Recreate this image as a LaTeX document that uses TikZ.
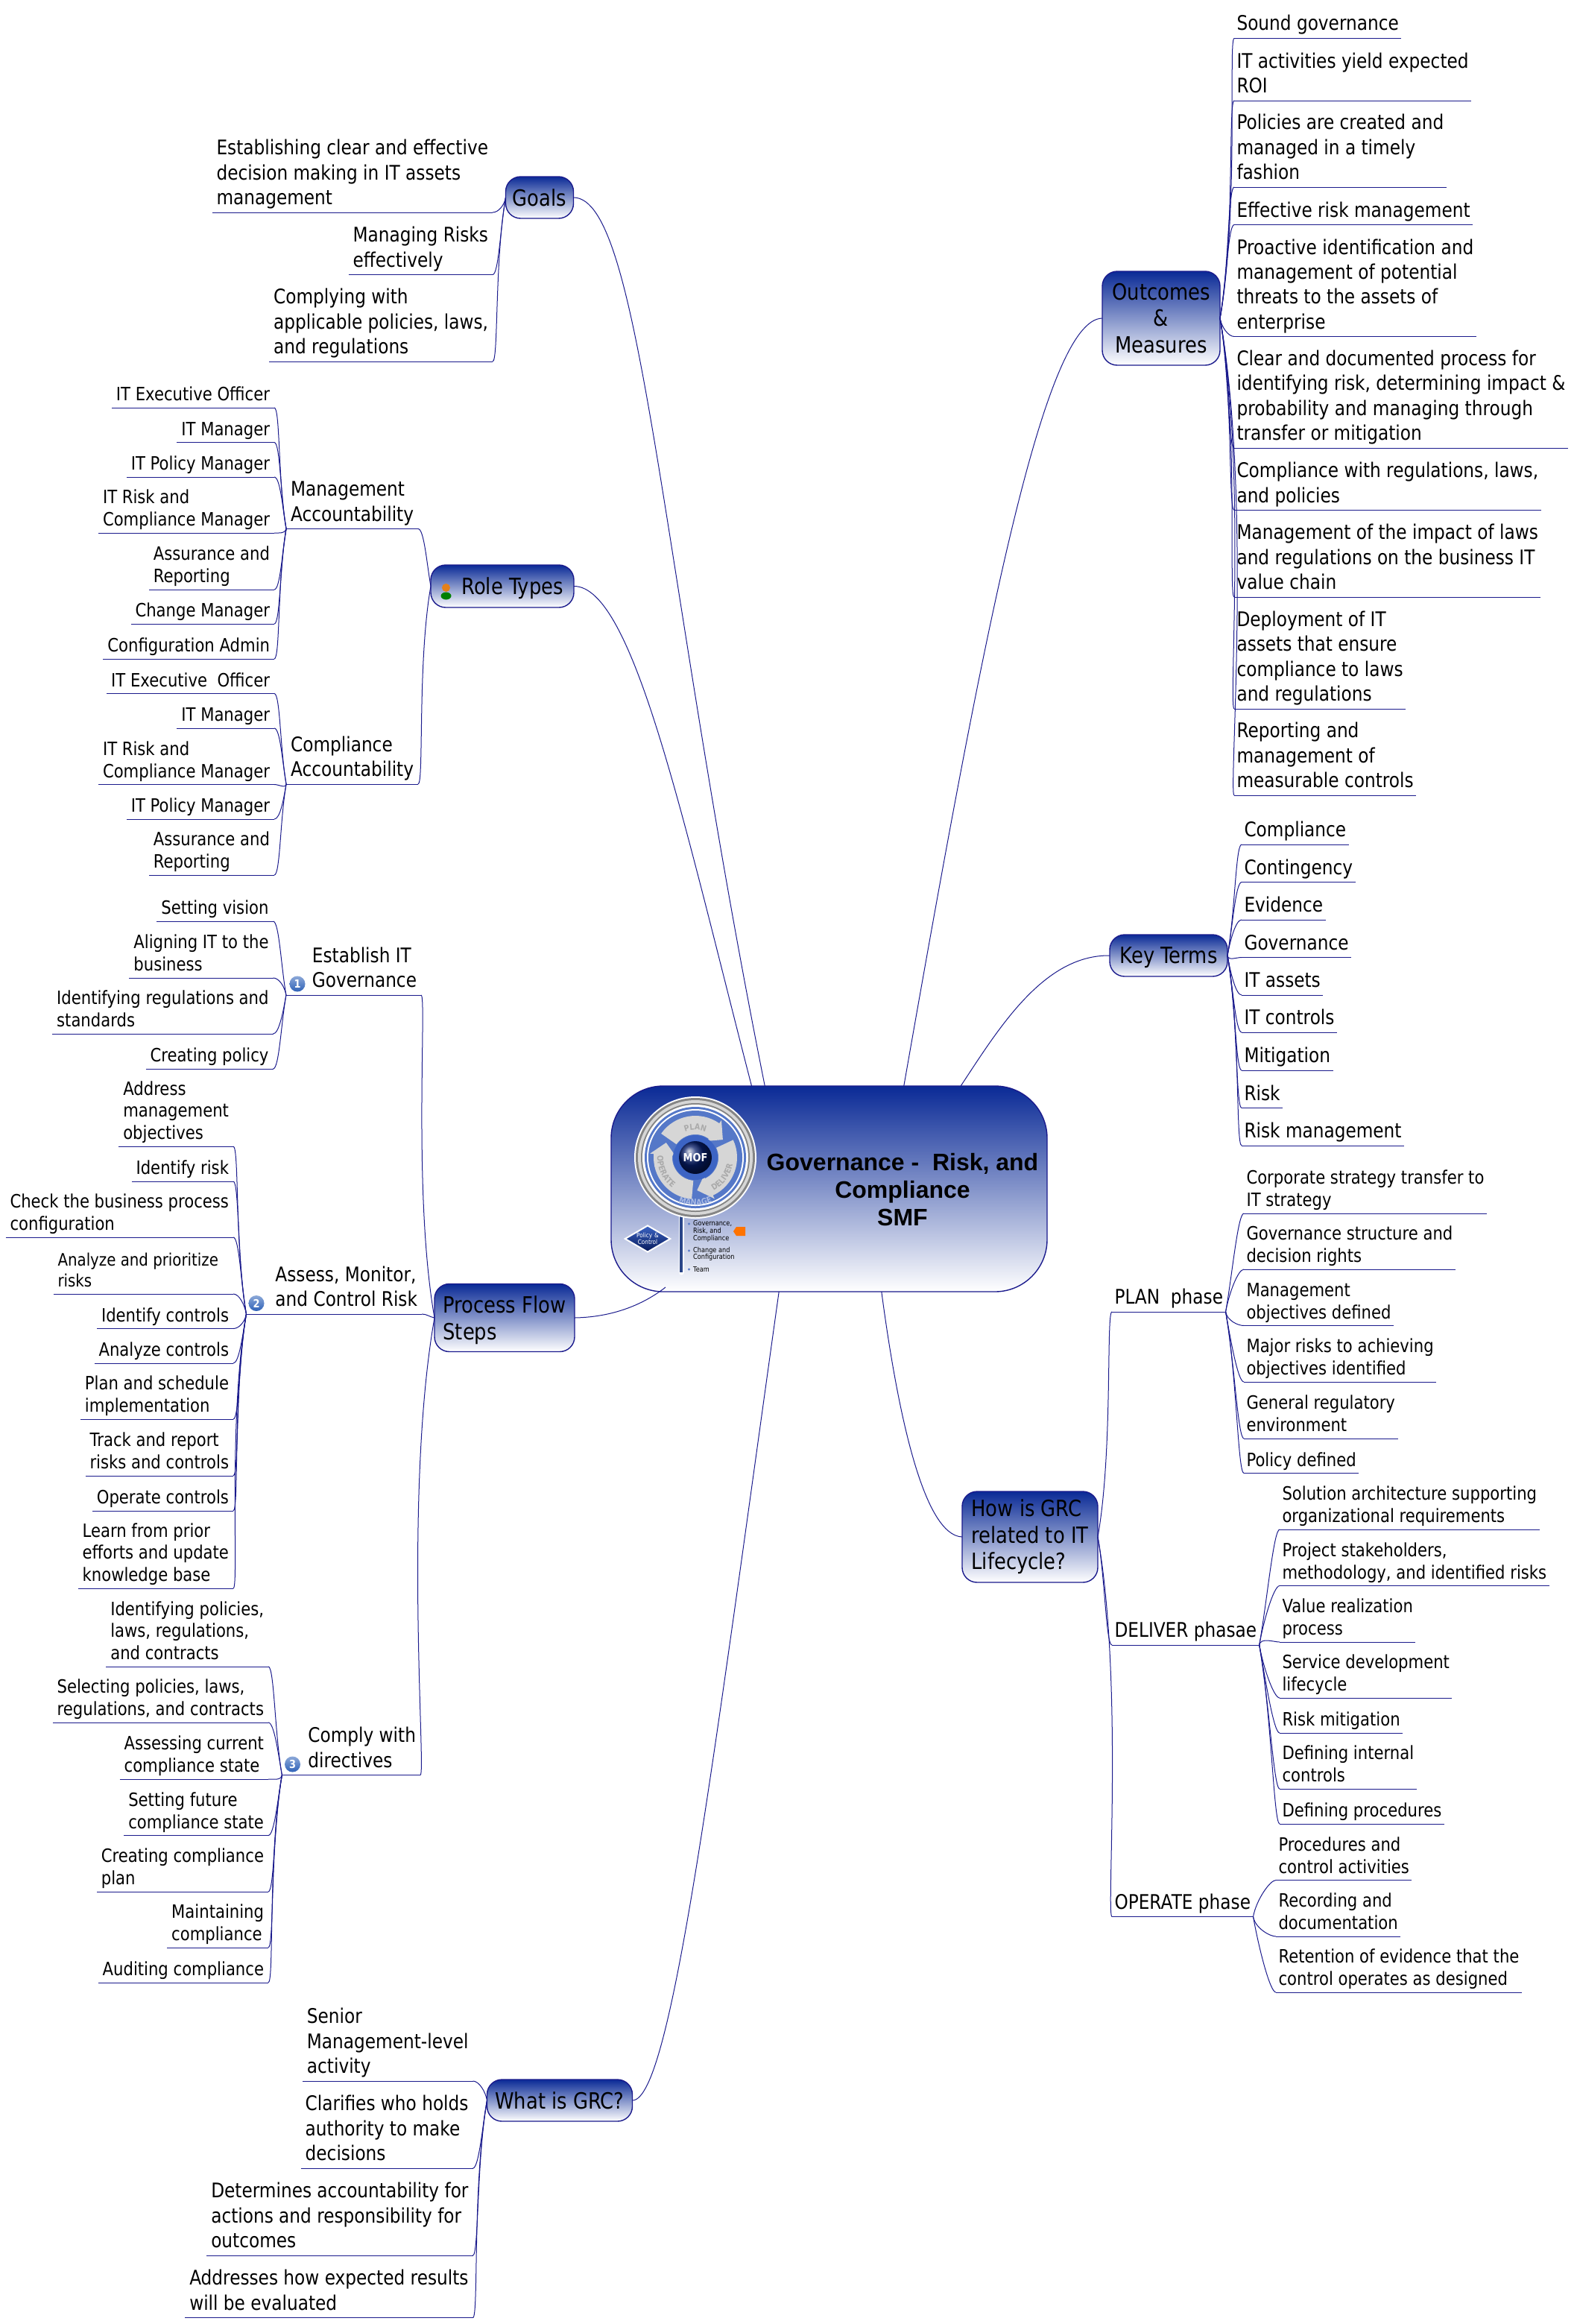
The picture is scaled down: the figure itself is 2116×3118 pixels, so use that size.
\documentclass[tikz,border=0pt]{standalone}
\usepackage{fontspec}
\setmainfont{DejaVu Sans}[FakeStretch=0.86]
\newfontfamily\titlefont{Liberation Sans}
\usetikzlibrary{arrows.meta,shapes.geometric,decorations.text}
\definecolor{MapNavy}{HTML}{1A1A8C}
\definecolor{TopicBlue}{HTML}{0A2A96}
\definecolor{LogoBlue}{HTML}{5578C8}
\definecolor{LogoDeep}{HTML}{3C64C4}
\definecolor{LogoPale}{HTML}{D6D6D6}
\definecolor{LogoGrey}{HTML}{858585}
\definecolor{BadgeBlue}{HTML}{2F62B8}
\newcommand{\logotext}{\fontsize{11}{11}\selectfont\bfseries}
\newcommand{\badgegap}{\hspace*{29pt}}

\begin{document}
\begin{tikzpicture}[x=1pt,y=-1pt]
\tikzset{
  twig/.style={MapNavy,line width=1pt},
  big/.style={font=\fontsize{27}{33.3}\selectfont},
  small/.style={font=\fontsize{24.6}{29.6}\selectfont},
  leaf/.style={big,align=left,inner ysep=0pt,outer sep=0pt,text depth=10.5pt,
               append after command={(\tikzlastnode.south west) edge[twig] (\tikzlastnode.south east)}},
  lleaf/.style={leaf,anchor=south east,inner xsep=6pt},
  rleaf/.style={leaf,anchor=south west,inner xsep=3.5pt},
  lsub/.style={lleaf,small,text depth=9.5pt},
  rsub/.style={rleaf,small,text depth=9.5pt},
  topic/.style={draw=MapNavy,line width=1.4pt,rounded corners=20pt,outer sep=0pt,inner sep=0pt,
                top color=TopicBlue,bottom color=white,align=center,
                font=\fontsize{30}{35.5}\selectfont},
  badge/.style={circle,inner sep=0pt,minimum size=21pt,top color=BadgeBlue!55!white,bottom color=BadgeBlue,text=white,
                font=\fontsize{15}{15}\selectfont\bfseries},
  lhi/.style={out=0,in=100,out max distance=8pt},
  llo/.style={out=0,in=-100,out max distance=8pt},
  rhi/.style={out=180,in=80,out max distance=8pt},
  rlo/.style={out=180,in=-80,out max distance=8pt},
  logosmall/.style={anchor=west,inner sep=0pt,align=left,font=\fontsize{9.5}{9.6}\selectfont}
}
\useasboundingbox (0,0) rectangle (2116,3118);

% ---------- centre topic -------------------------------------------------
\node[topic,rounded corners=70pt,minimum width=585pt,minimum height=276pt] (core) at (1112.5,1595) {};
\node[inner sep=0pt,align=center,font=\titlefont\fontsize{32}{37}\selectfont\bfseries] (coretitle) at (1211,1596)
  {Governance -\ \ Risk, and\\Compliance\\SMF};

% ---------- logo in the centre topic -------------------------------------
\draw[white,line width=7pt,line cap=round] (914,1610)--(914,1707);
\draw[LogoDeep!70!black,line width=4pt] (914,1610)--(914,1707);
\begin{scope}[shift={(933,1553)},y=1pt]
\fill[white] (0,0) circle (82pt);
\fill[LogoGrey] (0,0) circle (80pt);
\fill[LogoPale] (0,0) circle (77pt);
\fill[LogoGrey] (0,0) circle (73pt);
\fill[white] (0,0) circle (71pt);
\fill[LogoBlue] (0,0) circle (68pt);
\fill[white] (0,0) circle (65pt);
\fill[LogoBlue] (0,0) circle (63pt);
\foreach \a in {145,25,-95}{
  \fill[LogoPale] (\a:31) arc[start angle=\a,delta angle=-90,radius=31pt] -- (\a-90:27) -- (\a-112:44)
    -- (\a-90:61) -- (\a-90:56) arc[start angle=\a-90,delta angle=90,radius=56pt] -- cycle;
}
\fill[LogoDeep] (0,0) circle (30pt);
\shade[ball color=TopicBlue!70!black] (0,0) circle (22pt);
\path[decorate,decoration={text along path,text align=center,text color=LogoGrey!70,text={|\logotext|PLAN}}]
  (150:37) arc[start angle=150,end angle=30,radius=37pt];
\path[decorate,decoration={text along path,text align=center,text color=LogoGrey!70,text={|\logotext|DELIVER}}]
  (-96:51) arc[start angle=-96,end angle=24,radius=51pt];
\path[decorate,decoration={text along path,text align=center,text color=LogoGrey!70,text={|\logotext|OPERATE}}]
  (145:51) arc[start angle=145,end angle=265,radius=51pt];
\path[decorate,decoration={text along path,text align=center,text color=LogoBlue!50,text={|\logotext|MANAGE}}]
  (220:64) arc[start angle=220,end angle=320,radius=64pt];
\end{scope}
\node[text=white,inner sep=0pt,font=\fontsize{15}{15}\selectfont\bfseries] (mof) at (933,1553) {MOF};
\node[diamond,draw=white,line width=2pt,top color=LogoDeep,bottom color=TopicBlue!60!black,aspect=1.7,inner sep=0pt,
      text width=34pt,align=center,text=white,font=\fontsize{8.5}{9.5}\selectfont] (policy) at (869,1662) {Policy \&\\Control};
\foreach \y in {1642,1678,1703} \fill[LogoBlue] (924.5,\y) circle (1.7pt);
\node[logosmall] (logoa) at (930,1652) {Governance,\\Risk, and\\Compliance};
\node[logosmall] (logob) at (930,1682.5) {Change and\\Configuration};
\node[logosmall] (logoc) at (930,1703) {Team};
\fill[orange!90!red] (984,1652)--(988,1646)--(1000,1646)--(1000,1658)--(988,1658)--cycle;

% ---------- topics round the centre --------------------------------------
\node[topic,minimum width=91pt,minimum height=56pt] (goals) at (724,265) {Goals};
\node[topic,minimum width=192pt,minimum height=57pt,text depth=0pt] (roles) at (674,786.5) {\hspace*{27pt}Role Types};
\node[topic,minimum width=188pt,minimum height=91pt,align=left,text depth=0pt] (flow) at (677,1768) {Process Flow\\Steps};
\node[topic,minimum width=195pt,minimum height=56pt,text depth=0pt] (whatis) at (751,2818) {What is GRC?};
\node[topic,minimum width=158pt,minimum height=126pt] (outcomes) at (1558,427) {Outcomes\\\&\\Measures};
\node[topic,minimum width=158pt,minimum height=56pt,text depth=0pt] (terms) at (1568,1282) {Key Terms};
\node[topic,minimum width=182pt,minimum height=122pt,align=left] (howis) at (1382,2062) {How is GRC\\related to IT\\Lifecycle?};

\coordinate (coreflow) at (893,1727);
\draw[twig] (goals.east) .. controls (860,265) and (886,757) .. (core.122);
\draw[twig] (roles.east) .. controls (850,786) and (918,1107) .. (core.127.7);
\draw[twig] (outcomes.west) .. controls (1400,428) and (1318,857) .. (core.54.7);
\draw[twig] (terms.west) .. controls (1400,1281) and (1340,1380) .. (core.38.2);
\draw[twig] (flow.east) .. controls (830,1767) and (870,1745) .. (coreflow);
\draw[twig] (whatis.east) .. controls (900,2818) and (954,2383) .. (core.244);
\draw[twig] (howis.west) .. controls (1240,2060) and (1205,1900) .. (core.297.4);

% ---------- goals --------------------------------------------------------
\node[lleaf] (go1) at (661,285) {Establishing clear and effective\\decision making in IT assets\\management};
\node[lleaf] (go2) at (661,368.5) {Managing Risks\\effectively};
\node[lleaf] (go3) at (661,485) {Complying with\\applicable policies, laws,\\and regulations};
\foreach \n in {go1,go2,go3} \draw[twig] (\n.south east) to[llo] (goals.west);

% ---------- role types ---------------------------------------------------
\node[lleaf] (mgmt) at (561,709.5) {Management\\Accountability};
\node[lleaf] (comp) at (561,1052) {Compliance\\Accountability};
\draw[twig] (mgmt.south east) to[lhi] (roles.west);
\draw[twig] (comp.south east) to[llo] (roles.west);
\fill[orange!60!brown] (598.5,788.5) circle (5.5pt);
\fill[green!50!black] (598.5,799.5) ellipse (7pt and 5pt);

\node[lsub] (mg1) at (368,547) {IT Executive Officer};
\node[lsub] (mg2) at (368,593.5) {IT Manager};
\node[lsub] (mg3) at (368,640) {IT Policy Manager};
\node[lsub] (mg4) at (368,715) {IT Risk and\\Compliance Manager};
\node[lsub] (mg5) at (368,791) {Assurance and\\Reporting};
\node[lsub] (mg6) at (368,837) {Change Manager};
\node[lsub] (mg7) at (368,884) {Configuration Admin};
\foreach \n in {mg1,mg2,mg3} \draw[twig] (\n.south east) to[lhi] (mgmt.south west);
\foreach \n in {mg4,mg5,mg6,mg7} \draw[twig] (\n.south east) to[llo] (mgmt.south west);

\node[lsub] (co1) at (368,930.5) {IT Executive\ \ Officer};
\node[lsub] (co2) at (368,977) {IT Manager};
\node[lsub] (co3) at (368,1052.5) {IT Risk and\\Compliance Manager};
\node[lsub] (co4) at (368,1099) {IT Policy Manager};
\node[lsub] (co5) at (368,1174) {Assurance and\\Reporting};
\foreach \n in {co1,co2} \draw[twig] (\n.south east) to[lhi] (comp.south west);
\foreach \n in {co3,co4,co5} \draw[twig] (\n.south east) to[llo] (comp.south west);

% ---------- process flow steps -------------------------------------------
\node[lleaf] (estab) at (565,1335) {\badgegap Establish IT\\\badgegap Governance};
\node[lleaf] (assess) at (566,1763) {\hspace*{33pt}Assess, Monitor,\\\hspace*{33pt}and Control Risk};
\node[lleaf] (comply) at (564,2381.5) {\badgegap Comply with\\\badgegap directives};
\draw[twig] (estab.south east) to[lhi] (flow.west);
\draw[twig] (assess.south east) to[out=0,in=170,out max distance=8pt] (flow.west);
\draw[twig] (comply.south east) to[llo] (flow.west);
\node[badge] (num1) at (399,1320) {1};
\node[badge] (num2) at (344,1748.5) {2};
\node[badge] (num3) at (392.5,2367) {3};

\node[lsub] (es1) at (366.5,1236) {Setting vision};
\node[lsub] (es2) at (366.5,1312) {Aligning IT to the\\business};
\node[lsub] (es3) at (366.5,1387) {Identifying regulations and\\standards};
\node[lsub] (es4) at (366.5,1434) {Creating policy};
\foreach \n in {es1,es2} \draw[twig] (\n.south east) to[lhi] (estab.south west);
\foreach \n in {es3,es4} \draw[twig] (\n.south east) to[llo] (estab.south west);

\node[lsub] (as1) at (313,1538) {Address\\management\\objectives};
\node[lsub] (as2) at (313,1585) {Identify risk};
\node[lsub] (as3) at (313,1660) {Check the business process\\configuration};
\node[lsub,font=\fontsize{23}{27.6}\selectfont] (as4) at (313,1736) {Analyze and prioritize\hspace*{14pt}\\risks};
\node[lsub] (as5) at (313,1782.5) {Identify controls};
\node[lsub] (as6) at (313,1829) {Analyze controls};
\node[lsub] (as7) at (313,1904) {Plan and schedule\\implementation};
\node[lsub] (as8) at (313,1980) {Track and report\\risks and controls};
\node[lsub] (as9) at (313,2027) {Operate controls};
\node[lsub] (as10) at (313,2131) {Learn from prior\\efforts and update\\knowledge base};
\foreach \n in {as1,as2,as3,as4} \draw[twig] (\n.south east) to[lhi] (assess.south west);
\foreach \n in {as5,as6,as7,as8,as9,as10} \draw[twig] (\n.south east) to[llo] (assess.south west);

\node[lsub] (cd1) at (360,2236) {Identifying policies,\\laws, regulations,\\and contracts};
\node[lsub] (cd2) at (360,2311) {Selecting policies, laws,\\regulations, and contracts};
\node[lsub] (cd3) at (360,2387) {Assessing current\\compliance state};
\node[lsub] (cd4) at (360,2462.5) {Setting future\\compliance state};
\node[lsub] (cd5) at (360,2538) {Creating compliance\\plan};
\node[lsub] (cd6) at (360,2613) {Maintaining\\compliance};
\node[lsub] (cd7) at (360,2660) {Auditing compliance};
\foreach \n in {cd1,cd2} \draw[twig] (\n.south east) to[lhi] (comply.south west);
\foreach \n in {cd3,cd4,cd5,cd6,cd7} \draw[twig] (\n.south east) to[llo] (comply.south west);

% ---------- what is GRC --------------------------------------------------
\node[lleaf] (wh1) at (634.5,2792) {Senior\\Management-level\\activity};
\node[lleaf] (wh2) at (634.5,2909) {Clarifies who holds\\authority to make\\decisions};
\node[lleaf] (wh3) at (634.5,3026) {Determines accountability for\\actions and responsibility for\\outcomes};
\node[lleaf] (wh4) at (634.5,3109.5) {Addresses how expected results\\will be evaluated};
\draw[twig] (wh1.south east) to[lhi] (whatis.west);
\foreach \n in {wh2,wh3,wh4} \draw[twig] (\n.south east) to[llo] (whatis.west);

% ---------- outcomes and measures ----------------------------------------
\node[rleaf] (ou1) at (1656,51.5) {Sound governance};
\node[rleaf] (ou2) at (1656,135) {IT activities yield expected\\ROI};
\node[rleaf] (ou3) at (1656,251) {Policies are created and\\managed in a timely\\fashion};
\node[rleaf] (ou4) at (1656,301.5) {Effective risk management};
\node[rleaf] (ou5) at (1656,451.5) {Proactive identification and\\management of potential\\threats to the assets of\\enterprise};
\node[rleaf] (ou6) at (1656,601) {Clear and documented process for\\identifying risk, determining impact \&\\probability and managing through\\transfer or mitigation};
\node[rleaf] (ou7) at (1656,684.5) {Compliance with regulations, laws,\\and policies};
\node[rleaf] (ou8) at (1656,801) {Management of the impact of laws\\and regulations on the business IT\\value chain};
\node[rleaf] (ou9) at (1656,951) {Deployment of IT\\assets that ensure\\compliance to laws\\and regulations};
\node[rleaf] (ou10) at (1656,1067) {Reporting and\\management of\\measurable controls};
\foreach \n in {ou1,ou2,ou3,ou4} \draw[twig] (\n.south west) to[rhi] (outcomes.east);
\foreach \n in {ou5,ou6,ou7,ou8,ou9,ou10} \draw[twig] (\n.south west) to[rlo] (outcomes.east);

% ---------- key terms ----------------------------------------------------
\node[rleaf] (ke1) at (1666,1133) {Compliance};
\node[rleaf] (ke2) at (1666,1183.5) {Contingency};
\node[rleaf] (ke3) at (1666,1234) {Evidence};
\node[rleaf] (ke4) at (1666,1284.5) {Governance};
\node[rleaf] (ke5) at (1666,1335) {IT assets};
\node[rleaf] (ke6) at (1666,1385) {IT controls};
\node[rleaf] (ke7) at (1666,1436) {Mitigation};
\node[rleaf] (ke8) at (1666,1486.5) {Risk};
\node[rleaf] (ke9) at (1666,1537) {Risk management};
\foreach \n in {ke1,ke2,ke3} \draw[twig] (\n.south west) to[rhi] (terms.east);
\foreach \n in {ke4,ke5,ke6,ke7,ke8,ke9} \draw[twig] (\n.south west) to[rlo] (terms.east);

% ---------- how is GRC related -------------------------------------------
\node[rleaf] (plan) at (1492,1760) {PLAN\ \ phase};
\node[rleaf] (deliver) at (1492,2207) {DELIVER phasae};
\node[rleaf] (operate) at (1492,2571.5) {OPERATE phase};
\draw[twig] (plan.south west) to[rhi] (howis.east);
\foreach \n in {deliver,operate} \draw[twig] (\n.south west) to[rlo] (howis.east);

\node[rsub] (pl1) at (1669,1628) {Corporate strategy transfer to\\IT strategy};
\node[rsub] (pl2) at (1669,1703) {Governance structure and\\decision rights};
\node[rsub] (pl3) at (1669,1778.5) {Management\\objectives defined};
\node[rsub] (pl4) at (1669,1854) {Major risks to achieving\\objectives identified};
\node[rsub] (pl5) at (1669,1930) {General regulatory\\environment};
\node[rsub] (pl6) at (1669,1976.5) {Policy defined};
\foreach \n in {pl1,pl2} \draw[twig] (\n.south west) to[rhi] (plan.south east);
\foreach \n in {pl3,pl4,pl5,pl6} \draw[twig] (\n.south west) to[rlo] (plan.south east);

\node[rsub] (de1) at (1717,2052) {Solution architecture supporting\\organizational requirements};
\node[rsub] (de2) at (1717,2127.5) {Project stakeholders,\\methodology, and identified risks};
\node[rsub] (de3) at (1717,2203) {Value realization\\process};
\node[rsub] (de4) at (1717,2278) {Service development\\lifecycle};
\node[rsub] (de5) at (1717,2325) {Risk mitigation};
\node[rsub] (de6) at (1717,2400) {Defining internal\\controls};
\node[rsub] (de7) at (1717,2447) {Defining procedures};
\foreach \n in {de1,de2,de3} \draw[twig] (\n.south west) to[rhi] (deliver.south east);
\foreach \n in {de4,de5,de6,de7} \draw[twig] (\n.south west) to[rlo] (deliver.south east);

\node[rsub] (op1) at (1712,2522.5) {Procedures and\\control activities};
\node[rsub] (op2) at (1712,2598) {Recording and\\documentation};
\node[rsub] (op3) at (1712,2673) {Retention of evidence that the\\control operates as designed};
\draw[twig] (op1.south west) to[rhi] (operate.south east);
\foreach \n in {op2,op3} \draw[twig] (\n.south west) to[rlo] (operate.south east);
\end{tikzpicture}
\end{document}
